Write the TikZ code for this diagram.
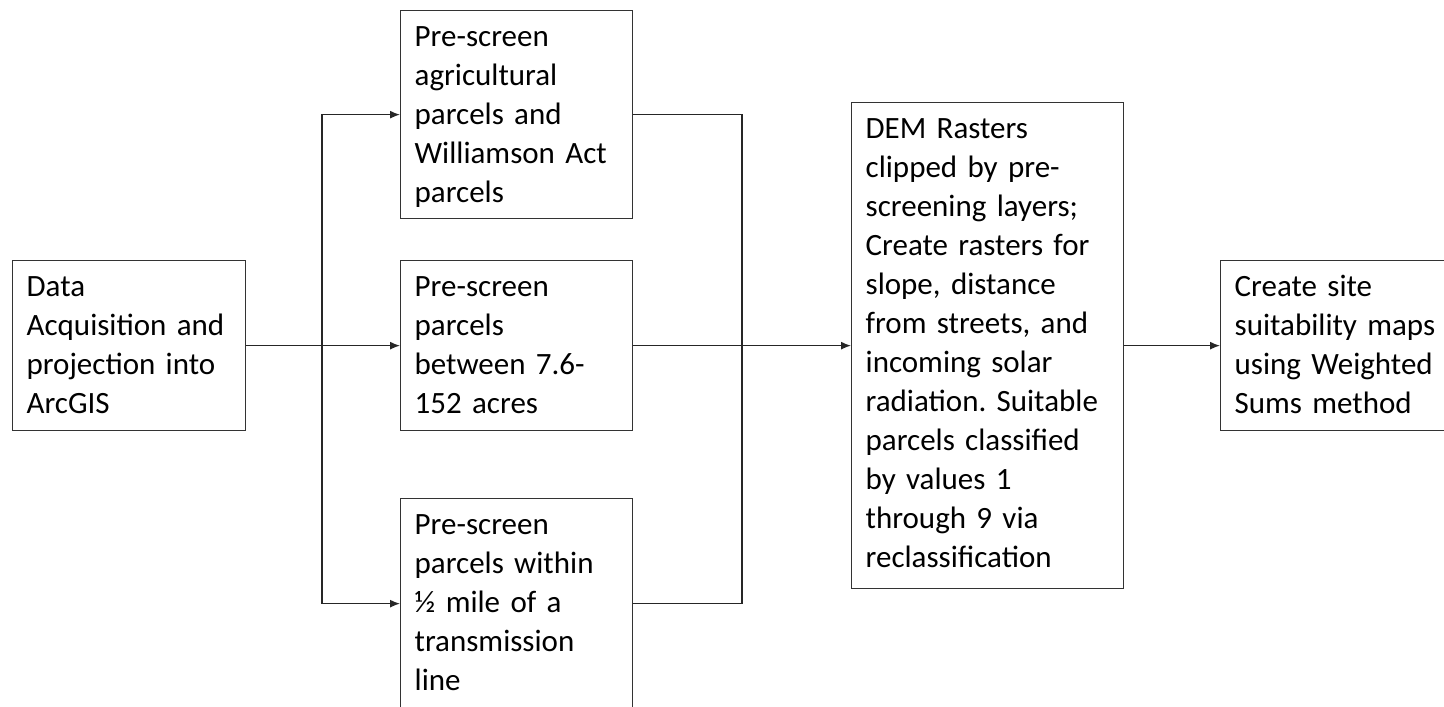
\documentclass[tikz,border=0pt]{standalone}
\usepackage{fontspec}
\setmainfont{Carlito}
\usepackage{tikz}
\usetikzlibrary{arrows.meta}
\tikzset{
procbox/.style={
  draw=black!80,
  line width=0.65pt,
  rectangle,
  anchor=north west,
  align=left,
  inner xsep=7pt,
  inner ysep=0pt,
  text height=18pt,
  font=\fontsize{15.5pt}{19.5pt}\selectfont
},
flow/.style={line width=0.65pt, draw=black!85},
arrow/.style={flow, -{Latex[length=5pt,width=4pt]}},
}

\begin{document}
\begin{tikzpicture}[x=0.5pt,y=-0.5pt]
\clip (0,0) rectangle (1444,706);
\fill[white] (0,0) rectangle (1444,706);
% the boxes
\node (acq) [procbox, text width=102.5pt, text depth=67pt] at (12,260)
  {Data\\ Acquisition~and\\ projection~into\\ ArcGIS};
\node (agri) [procbox, text width=102pt, text depth=86pt] at (400,10)
  {Pre-screen\\ agricultural\\ parcels~and\\ Williamson~Act\\ parcels};
\node (size) [procbox, text width=102pt, text depth=67pt] at (400,260)
  {Pre-screen\\ parcels\\ between~7.6-\\ 152~acres};
\node (line) [procbox, text width=102pt, text depth=87pt] at (400,498)
  {Pre-screen\\ parcels~within\\ \char"00BD~mile~of~a\\ transmission\\ line};
\node (dem) [procbox, text width=122pt, text depth=225pt] at (851,102)
  {DEM~Rasters\\ clipped~by~pre-\\ screening~layers;\\ Create~rasters~for\\ slope,~distance\\ from~streets,~and\\ incoming~solar\\ radiation.~Suitable\\ parcels~classified\\ by~values~1\\ through~9~via\\ reclassification};
\node (maps) [procbox, text width=136pt, text depth=67pt] at (1220,260)
  {Create~site\\ suitability~maps\\ using~Weighted\\ Sums~method};
% the connectors
\coordinate (fork) at (322,345);
\coordinate (merge) at (742,345);
\draw[arrow] (acq) -- (size);
\draw[arrow] (fork) |- (agri);
\draw[arrow] (fork) |- (line);
\draw[flow] (agri.east) -| (merge) |- (line.east);
\draw[arrow] (size) -- (dem);
\draw[arrow] (dem) -- (maps);
\end{tikzpicture}
\end{document}
